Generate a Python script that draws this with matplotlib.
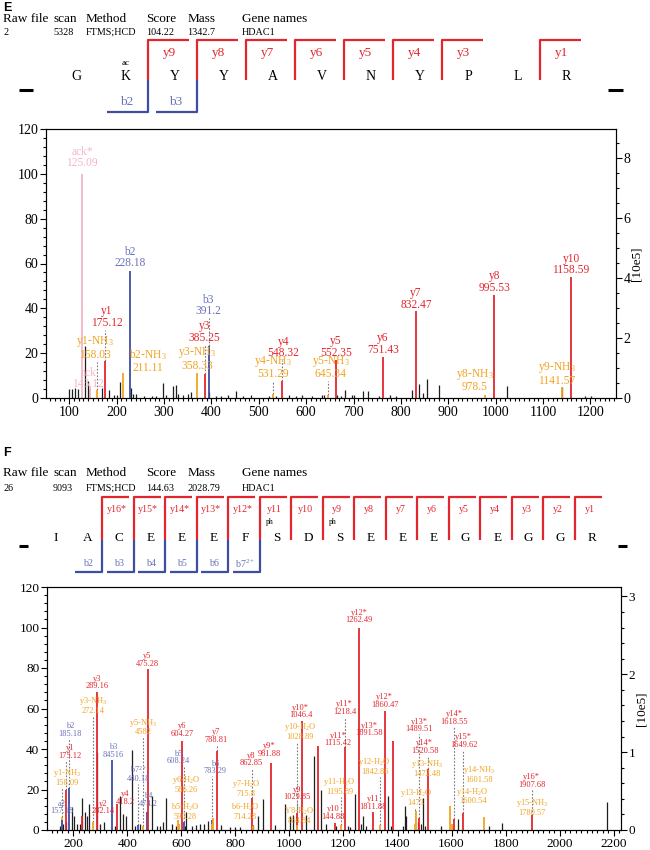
import matplotlib
matplotlib.use('Agg')
import matplotlib.pyplot as plt
from matplotlib.ticker import MultipleLocator

plt.rcParams['font.family'] = ['Liberation Serif', 'DejaVu Serif']
plt.rcParams['mathtext.fontset'] = 'custom'
plt.rcParams['mathtext.rm'] = 'Liberation Serif'
plt.rcParams['mathtext.it'] = 'Liberation Serif:italic'
plt.rcParams['mathtext.bf'] = 'Liberation Serif:bold'
plt.rcParams['mathtext.sf'] = 'Liberation Serif'

# ------------------------------------------------------------------ data
header_cols = ["Raw file", "scan", "Method", "Score", "Mass", "Gene names"]
e_header_vals = ["2", "5328", "FTMS;HCD", "104.22", "1342.7", "HDAC1"]
f_header_vals = ["26", "9093", "FTMS;HCD", "144.63", "2028.79", "HDAC1"]

e_sequence = list("GKYYAVNYPLR")
e_y_ions = [9, 8, 7, 6, 5, 4, 3, 1]
e_y_names = ["y9", "y8", "y7", "y6", "y5", "y4", "y3", "y1"]
e_b_ions = [2, 3]
e_b_names = ["b2", "b3"]
e_mod_site = [2]
e_mod_text = ["ac"]

f_sequence = list("IACEEEFSDSEEEGEGGR")
f_y_ions = [16, 15, 14, 13, 12, 11, 10, 9, 8, 7, 6, 5, 4, 3, 2, 1]
f_y_names = ["y16*", "y15*", "y14*", "y13*", "y12*", "y11", "y10", "y9",
             "y8", "y7", "y6", "y5", "y4", "y3", "y2", "y1"]
f_b_ions = [2, 3, 4, 5, 6, 7]
f_b_names = ["b2", "b3", "b4", "b5", "b6", "b7$^{2+}$"]
f_mod_site = [8, 10]
f_mod_text = ["ph", "ph"]

# panel E spectrum: unannotated peaks
e_black_mz = [98.5, 105, 112, 119, 133, 138.7, 140.8, 169, 183, 195, 200, 208,
              229.5, 234, 242, 258, 275, 284, 297, 304, 320, 325, 329, 340, 350,
              357, 396, 410, 421, 435, 452, 466, 484, 522, 536, 564, 578, 592,
              613, 634, 637, 665, 673, 682, 696, 700, 721, 730, 753, 777, 790,
              823, 839, 846, 855, 880, 1025, 1140, 1189, 1201]
e_black_int = [4, 4, 4.5, 4, 23, 7.5, 4, 4.5, 3.7, 1.5, 1.5, 7,
               4.5, 2, 1.8, 1, 1, 1, 6.5, 1.5, 5.5, 6, 2, 1.5, 2,
               2.5, 2.5, 1, 1, 1.5, 3, 1, 1.5, 1, 1, 1.5, 1, 1.5,
               1, 1.5, 1.5, 1.5, 1, 3.7, 1.5, 1.5, 3, 3, 1, 1.5, 1,
               3.4, 6.4, 2.2, 8.5, 5.8, 5.2, 4.8, 1, 1]

# panel E spectrum: annotated peaks
e_ann_mz = [127.0, 143.0, 228.6, 175.6, 159.4, 213.0, 369.7, 387.3, 394.4,
            530.6, 549.7, 646.0, 662.4, 761.4, 832.5, 978.5, 995.5, 1139.0, 1158.6]
e_ann_int = [100, 5, 56.5, 16.4, 3.7, 11.2, 11.2, 10.5, 23, 2, 7.5, 1.5, 17,
             18.4, 38.6, 1.2, 45.9, 4.8, 53.8]
e_ann_kind = ["imm", "imm", "b", "y", "loss", "loss", "loss", "y", "b", "loss",
              "y", "loss", "y", "y", "y", "loss", "y", "loss", "y"]
e_ann_name = ["ack*", "ack", "b2", "y1", "y1-NH$_3$", "b2-NH$_3$", "y3-NH$_3$",
              "y3", "b3", "y4-NH$_3$", "y4", "y5-NH$_3$", "y5", "y6", "y7",
              "y8-NH$_3$", "y8", "y9-NH$_3$", "y10"]
e_ann_value = ["125.09", "143.12", "228.18", "175.12", "158.03", "211.11",
               "358.33", "385.25", "391.2", "531.29", "548.32", "645.34",
               "552.35", "751.43", "832.47", "978.5", "995.53", "1141.57",
               "1158.59"]

# panel F spectrum: unannotated peaks
f_black_mz = [151, 164, 172, 194, 203, 213, 225, 231, 244, 252, 260, 287, 299,
              315, 354, 373, 385, 397, 416, 428, 447, 490, 509, 521, 533, 545,
              564, 580, 613, 619, 638, 656, 669, 684, 699, 748, 779, 798, 816,
              865, 884, 902, 945, 982, 1001, 1013, 1060, 1091, 1118, 1137,
              1173, 1216, 1225, 1241, 1266, 1272, 1282, 1366, 1376, 1419,
              1426, 1432, 1475, 1487, 1496, 1503, 1561, 1623, 1740, 1786, 2177]
f_black_int = [2, 3, 4, 11.4, 7, 3, 3, 15.6, 9, 7, 12.6, 38.7, 3,
               4, 2, 17, 8, 7, 39.5, 2, 3, 17, 2, 2, 4, 15.6,
               3, 2, 2, 9, 2, 2.5, 3, 3, 4.5, 2.5, 1.5, 1.5, 1.5,
               2.5, 7, 15.2, 2.5, 13, 7, 7.5, 7.5, 36.7, 19.7, 3,
               2, 2, 1.5, 18, 3, 7, 2, 17, 2, 2,
               11.9, 7, 4, 3, 16, 2, 2, 5.5, 2, 3.5, 14]

# panel F spectrum: annotated peaks
f_ann_mz = [175.1, 158.1, 157.2, 185.2, 232.1, 272.1, 289.2, 345.0, 363.0,
            441.0, 458.0, 472.0, 475.3, 590.0, 586.3, 604.3, 608.2, 713.0,
            715.8, 714.3, 733.3, 862.4, 864.8, 931.4, 1029.4, 1028.9, 1046.4,
            1105.5, 1207.0, 1168.0, 1192.0, 1257.0, 1309.0, 1336.0, 1352.0,
            1385.0, 1481.0, 1512.0, 1469.0, 1466.0, 1610.0, 1644.0, 1594.6,
            1600.0, 1721.0, 1897.5]
f_ann_int = [20, 6.5, 5, 20.5, 7, 4, 68.2, 34.6, 13,
             2.5, 2, 9, 79.4, 3, 5, 44, 4, 5,
             6, 3, 39.2, 16, 2, 33, 8.2, 2.5, 53.8,
             41.6, 40.8, 3.5, 2.5, 100, 9, 2.5, 58.7,
             44, 5.7, 30, 9.3, 3, 5.5, 8.5, 11.9,
             3, 6.5, 7.3]
f_ann_kind = ["y", "loss", "b", "b", "y", "loss", "y", "b", "y",
              "b", "loss", "b", "y", "loss", "loss", "y", "b", "b",
              "loss", "loss", "y", "y", "loss", "y", "y", "loss", "y",
              "y", "y", "y", "loss", "y", "y", "loss", "y",
              "y", "y", "y", "loss", "loss", "y", "y", "loss",
              "loss", "loss", "y"]
f_ann_name = ["y1", "y1-NH$_3$", "a2", "b2", "y2", "y3-NH$_3$", "y3", "b3", "y4",
              "b7$^{2+}$", "y5-NH$_3$", "b4", "y5", "b5-H$_2$O", "y6-H$_2$O", "y6",
              "b5", "b6", "y7-H$_2$O", "b6-H$_2$O", "y7", "y8", "Y8-H$_2$O", "y9*",
              "y9", "y10-H$_2$O", "y10*", "y11*", "y11*", "y10", "y11-H$_2$O",
              "y12*", "y11", "y12-H$_2$O", "y12*", "y13*", "y13*", "y14*",
              "y13-NH$_3$", "y13-H$_2$O", "y14*", "y15*", "y14-NH$_3$",
              "y14-H$_2$O", "y15-NH$_3$", "y16*"]
f_ann_value = ["175.12", "158.09", "157.18", "185.18", "282.14", "272.14",
               "289.16", "84516", "418.2", "440.18", "4582", "474.2", "475.28",
               "590.28", "586.26", "604.27", "608.24", "783.29", "715.8",
               "714.28", "788.81", "862.85", "864.84", "981.88", "1029.85",
               "1028.89", "1046.4", "1115.42", "1218.4", "144.88", "1195.89",
               "1262.49", "1811.88", "1842.86", "1860.47", "1891.58", "1489.51",
               "1520.58", "1472.48", "1473", "1618.55", "1649.62", "1601.58",
               "1600.54", "1780.57", "1907.68"]

# ------------------------------------------------------------------ layout
e_lab_x = [127, 140, 228.6, 179, 154.5, 267, 369.7, 385, 393, 530.6, 551.7,
           652, 663, 762, 832, 955.6, 997, 1129.6, 1159]
e_lab_y = [102, 3.4, 57.5, 31, 16.6, 10.9, 11.7, 24.2, 36, 7.9, 17.3, 7.9,
           17.6, 18.8, 39, 2.2, 46.5, 4.9, 54.3]
f_lab_x = [188, 176, 157.6, 188, 311.7, 272, 289, 348.5, 391.6,
           440.8, 459, 477.7, 475, 613, 619, 602, 588, 724,
           841, 835, 730, 859, 1035, 927, 1029, 1038, 1041,
           1179, 1204, 1161, 1185.6, 1257, 1308.7, 1315, 1352,
           1296, 1481, 1500, 1508, 1469, 1610, 1644, 1703,
           1678, 1897, 1897]
f_lab_y = [34.6, 21.2, 7.3, 45.4, 7.3, 57, 69, 35, 11.9,
           23.3, 46.2, 10.9, 80, 4.4, 18, 45.4, 32, 27,
           16, 4.4, 42.4, 31, 2.4, 35.6, 14.2, 44, 54.6,
           40.8, 56.4, 4.6, 16.8, 101.6, 9.3, 26.6, 59.9,
           45.7, 47.8, 37, 25.6, 11.4, 51.4, 40, 22.8,
           12.2, 6.5, 20.4]

RED = '#e3262e'
BLUE = '#3d4ea3'
BLUE_T = '#6a72bb'
ORANGE = '#f2a423'
PINK = '#f5b5c6'
BLACK = '#1e1e1e'
DOT = '#777777'
LINE_COL = {"y": RED, "b": BLUE, "loss": ORANGE, "imm": PINK}
TEXT_COL = {"y": RED, "b": BLUE_T, "loss": ORANGE, "imm": PINK}

W, H = 650, 850
fig = plt.figure(figsize=(W / 100, H / 100), dpi=100)
ov = fig.add_axes([0, 0, 1, 1])
ov.set_xlim(0, W)
ov.set_ylim(H, 0)
ov.axis('off')
ov.patch.set_visible(False)


def draw_header(panel, y0, vals, seq, y_ions, y_names, b_ions, b_names,
                mod_site, mod_text, x0, step, blen, fs_seq, fs_ion, geo,
                mod_on_label, seq_shift):
    ov.text(3, y0 + geo['panel'], panel, fontsize=9, fontweight='bold',
            family=['Liberation Sans', 'DejaVu Sans'], va='center', ha='left')
    col_x = [3, 53, 85.5, 146.5, 187.5, 242]
    for cx, name, val in zip(col_x, header_cols, vals):
        ov.text(cx, y0 + geo['head'], name, fontsize=9.5, va='center', ha='left')
        ov.text(cx, y0 + geo['vals'], val, fontsize=7.3, va='center', ha='left')
    n = len(seq)
    bx = lambda k: x0 + step * k
    for k, aa in enumerate(seq, start=1):
        ov.text(bx(k) - step / 2 + seq_shift, y0 + geo['seq'], aa,
                fontsize=fs_seq, ha='center', va='center')
    for j, nm in zip(y_ions, y_names):
        xb = bx(n - j)
        ov.plot([xb, xb, xb + blen], [y0 + geo['rbot'], y0 + geo['rtop'],
                y0 + geo['rtop']], color=RED, lw=1.6, solid_capstyle='butt')
        ov.text(xb + blen / 2 + 1, y0 + geo['ylab'], nm, color=RED,
                fontsize=fs_ion, ha='center', va='center')
    for k, nm in zip(b_ions, b_names):
        xb = bx(k)
        ov.plot([xb - blen, xb, xb], [y0 + geo['bbot'], y0 + geo['bbot'],
                y0 + geo['rbot']], color=BLUE, lw=1.6, solid_capstyle='butt')
        ov.text(xb - blen / 2 - 1, y0 + geo['blab'], nm, color=BLUE_T,
                fontsize=fs_ion, ha='center', va='center')
    for s, t in zip(mod_site, mod_text):
        if mod_on_label:
            ov.text(bx(s - 1) + 10, y0 + geo['mod'], t, fontsize=5.5,
                    ha='center', va='center')
        else:
            ov.text(bx(s) - step / 2 + seq_shift, y0 + geo['mod'], t,
                    fontsize=6.5, ha='center', va='center')
    for xa, xbb in geo['dash']:
        ov.plot([xa, xbb], [y0 + geo['dashy'], y0 + geo['dashy']],
                color='black', lw=2.2, solid_capstyle='butt')


draw_header("E", 0, e_header_vals, e_sequence, e_y_ions, e_y_names,
            e_b_ions, e_b_names, e_mod_site, e_mod_text, 50, 49, 41, 10, 9.5,
            dict(panel=8, head=19, vals=32, rtop=40, rbot=80, ylab=53, seq=76,
                 mod=63, blab=102, bbot=112, dashy=90,
                 dash=[(19, 33), (608, 623)]), False, 2)
draw_header("F", 445, f_header_vals, f_sequence, f_y_ions, f_y_names,
            f_b_ions, f_b_names, f_mod_site, f_mod_text, 39, 31.53, 27, 9.5,
            7.2,
            dict(panel=8, head=28, vals=43, rtop=52, rbot=95, ylab=64, seq=93,
                 mod=77, blab=119, bbot=127, dashy=101,
                 dash=[(19, 28), (618, 627)]), True, 1)


def spectrum(rect, xlim, xmaj, xmin, rmax, rmaj, rmin, black_mz, black_int,
             a_mz, a_int, a_kind, a_name, a_val, lx, ly, fs, tol, tfs):
    ax = fig.add_axes(rect)
    ax.set_xlim(*xlim)
    ax.set_ylim(0, 120)
    ax.vlines(black_mz, 0, black_int, color=BLACK, lw=0.9, zorder=2)
    ax.vlines(a_mz, 0, a_int, colors=[LINE_COL[k] for k in a_kind],
              lw=1.3, zorder=3)
    for m, i, k, nm, v, x, y in zip(a_mz, a_int, a_kind, a_name, a_val, lx, ly):
        if abs(x - m) < tol and y - i > 3:
            ax.vlines(m, i, y - 0.5, color=DOT, lw=0.8,
                      linestyles=(0, (1.5, 1.5)), zorder=2.5)
        ax.text(x, y, nm + "\n" + v, ha='center', va='bottom', fontsize=fs,
                color=TEXT_COL[k], linespacing=0.95, zorder=4)
    ax.xaxis.set_major_locator(MultipleLocator(xmaj))
    ax.xaxis.set_minor_locator(MultipleLocator(xmin))
    ax.yaxis.set_major_locator(MultipleLocator(20))
    ax.yaxis.set_minor_locator(MultipleLocator(4))
    ax.tick_params(which='both', direction='out', width=0.8, labelsize=tfs,
                   pad=1.5, top=False, right=False)
    ax.tick_params(which='major', length=4)
    ax.tick_params(which='minor', length=2)
    for sp in ax.spines.values():
        sp.set_linewidth(0.8)
        sp.set_color('#333333')
    ax2 = ax.twinx()
    ax2.set_ylim(0, rmax)
    ax2.yaxis.set_major_locator(MultipleLocator(rmaj))
    ax2.yaxis.set_minor_locator(MultipleLocator(rmin))
    ax2.tick_params(which='both', direction='out', width=0.8, labelsize=tfs,
                    pad=1.5)
    ax2.tick_params(which='major', length=4)
    ax2.tick_params(which='minor', length=2)
    ax2.set_ylabel('[10e5]', fontsize=9.5, rotation=90, labelpad=0)
    return ax


spectrum([46 / W, 1 - 398 / H, 570 / W, 269 / H], (51, 1254), 100, 10,
         8.97, 2, 0.5, e_black_mz, e_black_int, e_ann_mz, e_ann_int,
         e_ann_kind, e_ann_name, e_ann_value, e_lab_x, e_lab_y, 8.3, 10, 10)
spectrum([47 / W, 1 - 830 / H, 574 / W, 243 / H], (103, 2227), 200, 20,
         3.12, 1, 0.2, f_black_mz, f_black_int, f_ann_mz, f_ann_int,
         f_ann_kind, f_ann_name, f_ann_value, f_lab_x, f_lab_y, 6.0, 25, 9.5)

fig.savefig('out.png', dpi=100)
